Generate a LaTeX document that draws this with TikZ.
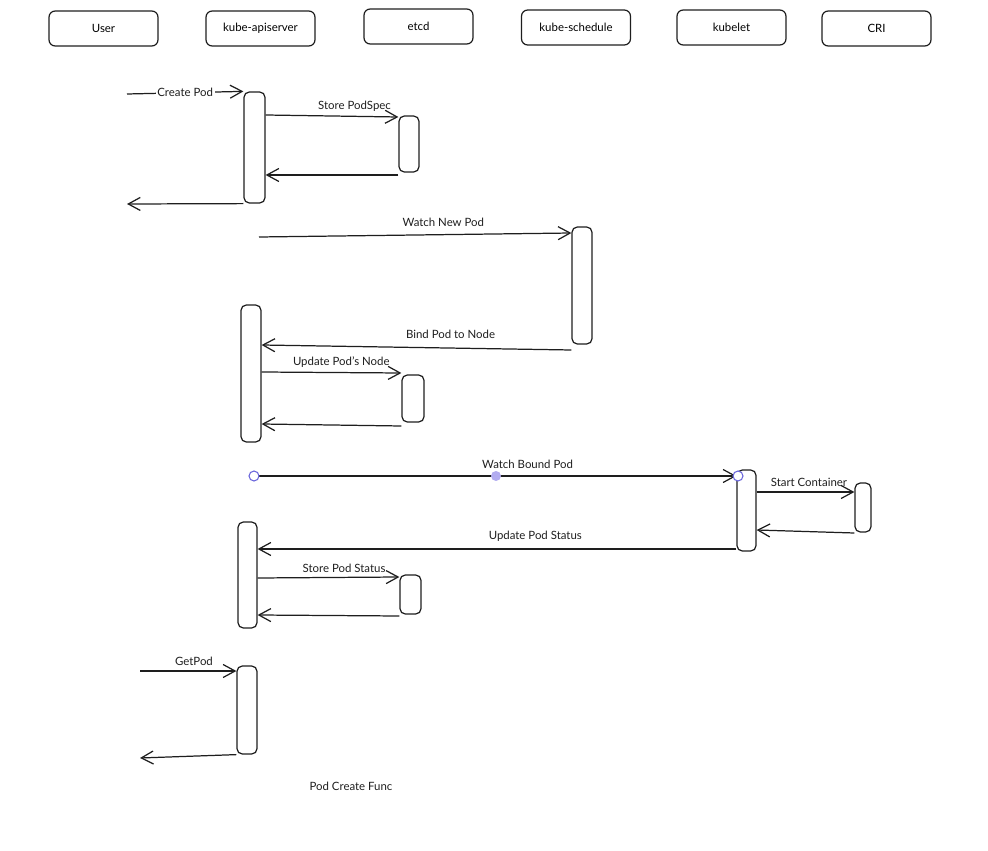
\documentclass[tikz,border=0pt]{standalone}
\usepackage{fontspec}
\setmainfont{Lato}
\usepackage{tikz}
\usetikzlibrary{arrows.meta, positioning, fit, calc}
\definecolor{inkc}{RGB}{30,30,30}
\definecolor{handlec}{RGB}{105,101,219}
\definecolor{handlefill}{RGB}{178,172,240}
\tikzset{
  arr/.style={-{Straight Barb[length=2.4mm, width=2.6mm]}, line width=0.7pt, inkc},
}

\begin{document}
\begin{tikzpicture}[x=0.02cm,y=-0.02cm,font=\fontsize{6.5}{8}\selectfont]
      \tikzset{
            seqactor/.style={draw=inkc, line width=0.7pt, rounded corners=3.5pt, minimum width=2.18cm, minimum height=0.7cm, align=center},
            seqbar/.style={draw=inkc, line width=0.7pt, rounded corners=3pt, inner sep=0pt},
            seqmsg/.style={arr},
            seqlabel/.style={inner sep=1pt, text=inkc},
            seqhandle/.style={circle, draw=handlec, line width=0.6pt, fill=white, minimum size=0.2cm, inner sep=0pt},
            seqhandlemid/.style={circle, fill=handlefill, minimum size=0.2cm, inner sep=0pt}
      }
      \useasboundingbox (0,0) rectangle (988,851);

      % X positions (actors)
      \def\xU{103.5}
      \def\xA{260.5}
      \def\xE{418.5}
      \def\xS{576}
      \def\xK{731.5}
      \def\xC{876.5}

      % Actors
      \node[seqactor] (user) at (\xU,28.5) {User};
      \node[seqactor] (api) at (\xA,28.5) {kube-apiserver};
      \node[seqactor] (etcd) at (\xE,26.5) {etcd};
      \node[seqactor] (sched) at (\xS,27.5) {kube-schedule};
      \node[seqactor] (kubelet) at (\xK,27.5) {kubelet};
      \node[seqactor] (cri) at (\xC,28.5) {CRI};

      % Activation bars
      \node[seqbar, fit={(244,92) (265,203)}] (a1) {};
      \node[seqbar, fit={(399,116) (419,172)}] (e1) {};
      \node[seqbar, fit={(572,227) (592,344)}] (s1) {};
      \node[seqbar, fit={(241,305) (261,442)}] (a2) {};
      \node[seqbar, fit={(402,375) (424,422)}] (e2) {};
      \node[seqbar, fit={(737,470) (756,551)}] (k1) {};
      \node[seqbar, fit={(855,483) (871,532)}] (c1) {};
      \node[seqbar, fit={(238,522) (257,628)}] (a3) {};
      \node[seqbar, fit={(400,575) (421,614)}] (e3) {};
      \node[seqbar, fit={(237,666) (257,754)}] (a4) {};

      % Free ends
      \coordinate (uin1) at (127,94);
      \coordinate (uout1) at (127,204);
      \coordinate (watch1) at (259,237);
      \coordinate (watch2) at (254,476);
      \coordinate (uin2) at (140,671);
      \coordinate (uout2) at (140,758);

      % --- Create ---
      \draw[seqmsg] (uin1) -- (a1.north west) node[midway,seqlabel,fill=white] {Create Pod};
      \draw[seqmsg] (a1.east |- 0,115) -- (e1.west |- 0,117) node[pos=0.67,above=1.5pt,seqlabel] {Store PodSpec};
      \draw[seqmsg] (e1.south west |- 0,175) -- (a1.east |- 0,175);
      \draw[seqmsg] (a1.south west) -- (uout1);

      % --- Schedule ---
      \draw[seqmsg] (watch1) -- (s1.west |- 0,233) node[pos=0.59,above=3pt,seqlabel] {Watch New Pod};
      \draw[seqmsg] (s1.south west |- 0,350) -- (a2.east |- 0,345) node[pos=0.39,above=4pt,seqlabel] {Bind Pod to Node};
      \draw[seqmsg] (a2.east |- 0,372) -- (e2.west |- 0,373) node[pos=0.57,above=1.5pt,seqlabel] {Update Pod's Node};
      \draw[seqmsg] (e2.west |- 0,426) -- (a2.east |- 0,424);

      % --- Run on node ---
      \draw[seqmsg] (watch2) -- (k1.west |- 0,476) node[pos=0.567,above=3pt,seqlabel] {Watch Bound Pod};
      \node[seqhandle] (h1) at (watch2) {};
      \node[seqhandlemid] (h2) at (496,476) {};
      \node[seqhandle] (h3) at (738,476) {};
      \draw[seqmsg] (k1.east |- 0,492) -- (c1.west |- 0,492) node[pos=0.535,above=2pt,seqlabel] {Start Container};
      \draw[seqmsg] (c1.south west |- 0,533) -- (k1.east |- 0,530);
      \draw[seqmsg] (k1.south west |- 0,549) -- (a3.east |- 0,549) node[pos=0.42,above=3pt,seqlabel] {Update Pod Status};
      \draw[seqmsg] (a3.east |- 0,578) -- (e3.west |- 0,577) node[pos=0.61,above=1.5pt,seqlabel] {Store Pod Status};
      \draw[seqmsg] (e3.south west |- 0,616) -- (a3.east |- 0,615);

      % --- Get ---
      \draw[seqmsg] (uin2) -- (a4.west |- uin2) node[pos=0.56,above=2pt,seqlabel] {GetPod};
      \draw[seqmsg] (a4.south west) -- (uout2);

      \node[text=inkc] (title) at (351,786) {Pod Create Func};
\end{tikzpicture}
\end{document}
